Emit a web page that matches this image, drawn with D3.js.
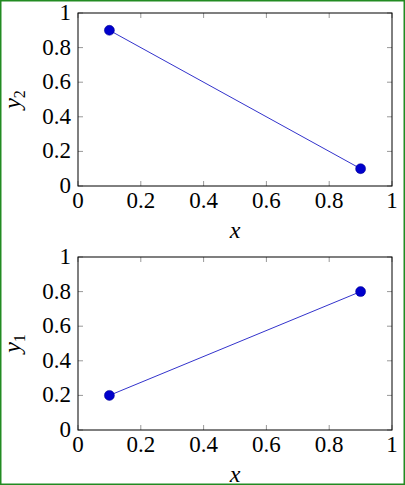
<!DOCTYPE html>
<html><head><meta charset="utf-8">
<script src="https://cdn.jsdelivr.net/npm/d3@7"></script>
<style>body{margin:0;background:#fff}svg{display:block}text{font-family:"Liberation Serif","DejaVu Serif","Times New Roman",serif}</style>
</head><body>
<svg width="405" height="485"></svg>
<script>
const xTicks = [0, 0.2, 0.4, 0.6, 0.8, 1];
const yTicks = [0, 0.2, 0.4, 0.6, 0.8, 1];
const topX = [0.1, 0.9], topY = [0.9, 0.1];
const botX = [0.1, 0.9], botY = [0.2, 0.8];

const svg = d3.select("svg");
svg.append("rect").attr("x", 0.75).attr("y", 0.75).attr("width", 403.5).attr("height", 483.5)
  .attr("fill", "none").attr("stroke", "#228b22").attr("stroke-width", 1.5);

const fmt = d => String(d);

function panel(top, xs, ys, ylab, sub) {
  const L = 78, R = 392, T = top, B = top + 173;
  const x = d3.scaleLinear().domain([0, 1]).range([L, R]);
  const y = d3.scaleLinear().domain([0, 1]).range([B, T]);
  const g = svg.append("g");
  // ticks inside on all sides
  xTicks.forEach(t => {
    g.append("line").attr("x1", x(t)).attr("x2", x(t)).attr("y1", B).attr("y2", B - 5).attr("stroke", "#999");
    g.append("line").attr("x1", x(t)).attr("x2", x(t)).attr("y1", T).attr("y2", T + 5).attr("stroke", "#999");
    g.append("text").attr("x", x(t)).attr("y", B + 22).attr("text-anchor", "middle")
      .attr("font-size", 23).text(fmt(t));
  });
  yTicks.forEach(t => {
    g.append("line").attr("y1", y(t)).attr("y2", y(t)).attr("x1", L).attr("x2", L + 5).attr("stroke", "#999");
    g.append("line").attr("y1", y(t)).attr("y2", y(t)).attr("x1", R).attr("x2", R - 5).attr("stroke", "#999");
    g.append("text").attr("x", L - 7).attr("y", y(t) + 7).attr("text-anchor", "end")
      .attr("font-size", 23).text(fmt(t));
  });
  g.append("rect").attr("x", L).attr("y", T).attr("width", R - L).attr("height", B - T)
    .attr("fill", "none").attr("stroke", "#000").attr("stroke-width", 1);
  const pts = xs.map((v, i) => [v, ys[i]]);
  g.append("path").attr("d", d3.line().x(d => x(d[0])).y(d => y(d[1]))(pts))
    .attr("fill", "none").attr("stroke", "#3333cc").attr("stroke-width", 1);
  g.selectAll("circle.m").data(pts).join("circle").attr("cx", d => x(d[0])).attr("cy", d => y(d[1]))
    .attr("r", 5).attr("fill", "#0000cc").attr("stroke", "#00008b").attr("stroke-width", 0.5);
  g.append("text").attr("x", (L + R) / 2).attr("y", B + 52).attr("text-anchor", "middle")
    .attr("font-style", "italic").attr("font-size", 24).text("x");
  const yl = g.append("text").attr("transform", `translate(20,${(T + B) / 2}) rotate(-90)`)
    .attr("text-anchor", "middle").attr("font-size", 24);
  yl.append("tspan").attr("font-style", "italic").text(ylab);
  yl.append("tspan").attr("font-size", 16).attr("dy", 5).text(sub);
}
panel(13, topX, topY, "y", "2");
panel(257, botX, botY, "y", "1");
</script>
</body></html>
